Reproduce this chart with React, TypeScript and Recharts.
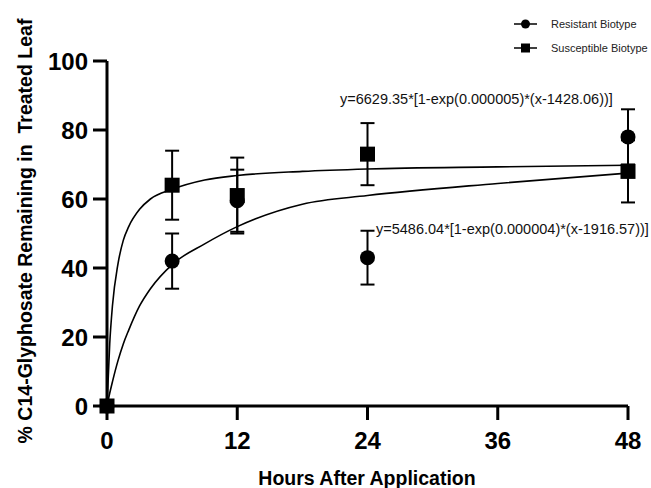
import React from 'react';
import { ComposedChart, Scatter, Line, ErrorBar, XAxis, YAxis } from 'recharts';

// measured points (hours after application)
const hours = [0, 6, 12, 24, 48];
const resistantMean = [0, 42, 59.5, 43, 78];
const resistantErr = [0, 8, 9, 7.8, 8];
const susceptibleMean = [0, 64, 61, 73, 68];
const susceptibleErr = [0, 10, 11, 9, 9];

// fitted curves
const fitHours = [0, 0.25, 0.5, 1, 1.5, 2, 3, 4, 6, 9, 12, 18, 24, 36, 48];
const susceptibleFit = [0, 18, 29, 41, 48, 52, 57, 60, 62.8, 65.5, 66.8, 68, 68.7, 69.3, 69.8];
const resistantFit = [0, 3.7, 7, 13, 18, 22, 29, 34, 41, 47, 52, 58.5, 61, 64.5, 67.5];

const xTicks = [0, 12, 24, 36, 48];
const yTicks = [0, 20, 40, 60, 80, 100];

const seriesNames = ['Resistant Biotype', 'Susceptible Biotype'];
const equations = [
    'y=6629.35*[1-exp(0.000005)*(x-1428.06))]',
    'y=5486.04*[1-exp(0.000004)*(x-1916.57))]',
];

const FONT = '"Liberation Sans", Arial, sans-serif';

const resistantData = hours.map((h, i) => ({ x: h, y: resistantMean[i], err: resistantErr[i] }));
const susceptibleData = hours.map((h, i) => ({ x: h, y: susceptibleMean[i], err: susceptibleErr[i] }));
const resistantCurve = fitHours.map((h, i) => ({ x: h, y: resistantFit[i] }));
const susceptibleCurve = fitHours.map((h, i) => ({ x: h, y: susceptibleFit[i] }));

const CircleDot = (props: any) => <circle cx={props.cx} cy={props.cy} r={7.5} fill="#000" />;
const SquareDot = (props: any) => (
    <rect x={props.cx - 7.5} y={props.cy - 7.5} width={15} height={15} fill="#000" />
);

const tickStyle = { fontSize: 24, fontWeight: 'bold' as const, fill: '#000', fontFamily: FONT };

const LegendRow = ({ label, square, top }: { label: string; square: boolean; top: number }) => (
    <div style={{ position: 'absolute', left: 514, top: top - 7, height: 14, display: 'flex', alignItems: 'center' }}>
        <svg width={24} height={14}>
            <line x1={0} y1={7} x2={23} y2={7} stroke="#000" strokeWidth={1.5} />
            {square ? <rect x={7} y={2.5} width={9} height={9} fill="#000" /> : <circle cx={11.5} cy={7} r={4.5} fill="#000" />}
        </svg>
        <span style={{ marginLeft: 13, fontSize: 11, fontFamily: FONT, color: '#222', whiteSpace: 'nowrap' }}>{label}</span>
    </div>
);

export default function App() {
    return (
        <div style={{ position: 'absolute', left: 0, top: 0, width: 651, height: 488, overflow: 'hidden', background: '#fff' }}>
            <ComposedChart width={651} height={488} margin={{ top: 61, right: 23, bottom: 0, left: 0 }}>
                <XAxis
                    dataKey="x"
                    type="number"
                    domain={[0, 48]}
                    ticks={xTicks}
                    allowDuplicatedCategory={false}
                    height={82}
                    tick={tickStyle}
                    tickSize={14}
                    tickMargin={12}
                    axisLine={{ stroke: '#000', strokeWidth: 3 }}
                    tickLine={{ stroke: '#000', strokeWidth: 3 }}
                    label={{
                        content: () => (
                            <text x={367} y={485} textAnchor="middle" fontSize={19.5} fontWeight="bold" fontFamily={FONT} fill="#000">
                                Hours After Application
                            </text>
                        ),
                    }}
                />
                <YAxis
                    type="number"
                    domain={[0, 100]}
                    ticks={yTicks}
                    width={107}
                    tick={tickStyle}
                    tickSize={14}
                    tickMargin={5}
                    axisLine={{ stroke: '#000', strokeWidth: 3 }}
                    tickLine={{ stroke: '#000', strokeWidth: 3 }}
                    label={{
                        content: () => (
                            <text
                                x={32}
                                y={231}
                                transform="rotate(-90, 32, 231)"
                                textAnchor="middle"
                                fontSize={19.5}
                                fontWeight="bold"
                                fontFamily={FONT}
                                fill="#000"
                                style={{ whiteSpace: 'pre' }}
                            >
                                {'% C14-Glyphosate Remaining in  Treated Leaf'}
                            </text>
                        ),
                    }}
                />
                <Line data={susceptibleCurve} dataKey="y" type="monotone" stroke="#000" strokeWidth={1.6} dot={false} activeDot={false} isAnimationActive={false} />
                <Line data={resistantCurve} dataKey="y" type="monotone" stroke="#000" strokeWidth={1.6} dot={false} activeDot={false} isAnimationActive={false} />
                <Scatter name={seriesNames[0]} data={resistantData} dataKey="y" shape={CircleDot} isAnimationActive={false}>
                    <ErrorBar dataKey="err" direction="y" width={7} stroke="#000" strokeWidth={2} isAnimationActive={false} />
                </Scatter>
                <Scatter name={seriesNames[1]} data={susceptibleData} dataKey="y" shape={SquareDot} isAnimationActive={false}>
                    <ErrorBar dataKey="err" direction="y" width={7} stroke="#000" strokeWidth={2} isAnimationActive={false} />
                </Scatter>
            </ComposedChart>
            <LegendRow label={seriesNames[0]} square={false} top={24} />
            <LegendRow label={seriesNames[1]} square={true} top={48} />
            <div style={{ position: 'absolute', left: 340, top: 91, fontSize: 14.5, fontFamily: FONT, color: '#111', whiteSpace: 'nowrap' }}>
                {equations[0]}
            </div>
            <div style={{ position: 'absolute', left: 376, top: 221, fontSize: 14.5, fontFamily: FONT, color: '#111', whiteSpace: 'nowrap' }}>
                {equations[1]}
            </div>
        </div>
    );
}
